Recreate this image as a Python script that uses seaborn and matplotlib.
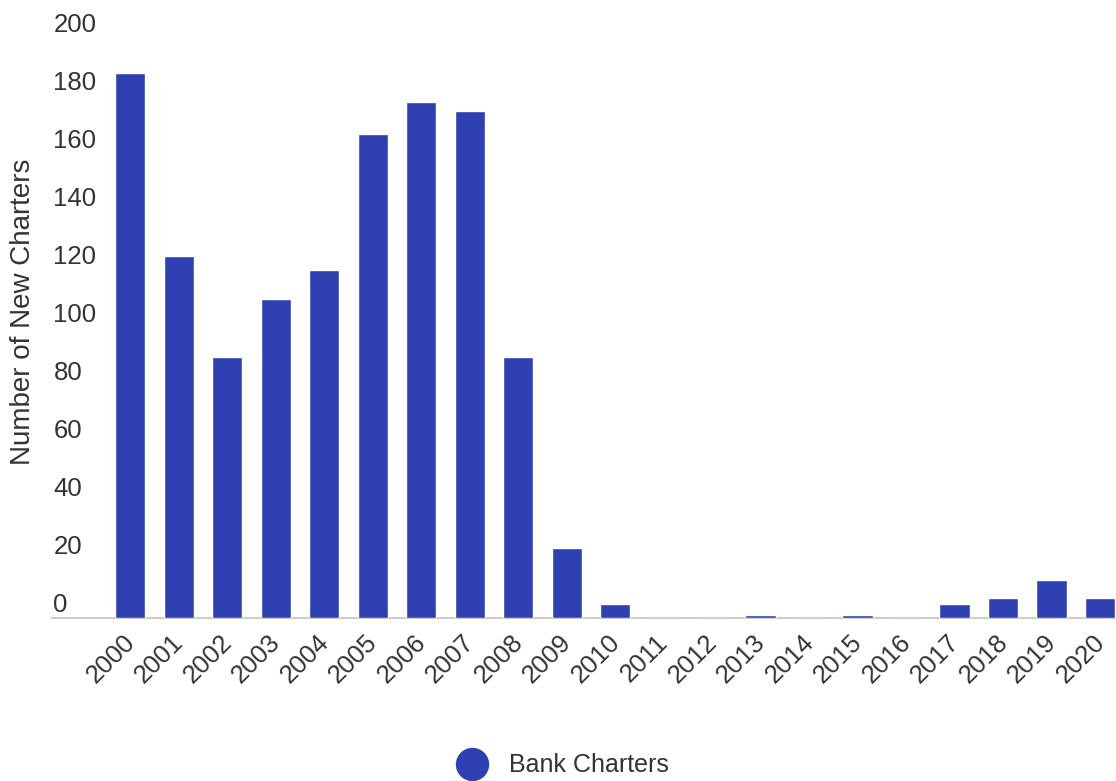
import matplotlib
matplotlib.use("Agg")
import matplotlib.pyplot as plt
import matplotlib.transforms as mtransforms
from matplotlib.lines import Line2D
import seaborn as sns
import pandas as pd

years = [str(y) for y in range(2000, 2021)]
charters = [188, 125, 90, 110, 120, 167, 178, 175, 90, 24, 5, 0, 0, 1, 0, 1, 0, 5, 7, 13, 7]
yticks = [0, 20, 40, 60, 80, 100, 120, 140, 160, 180, 200]
series_name = "Bank Charters"
ylabel = "Number of New Charters"

BAR = "#2f41b0"
TXT = "#333333"

sns.set_theme(style="white")
plt.rcParams["font.family"] = ["Liberation Sans", "DejaVu Sans"]

df = pd.DataFrame({"Year": years, "Charters": charters})

fig = plt.figure(figsize=(11.16, 7.81), dpi=100)
ax = fig.add_axes([52 / 1116, 163 / 781, (1116 - 52) / 1116, (618 - 38) / 781])

sns.barplot(data=df, x="Year", y="Charters", color=BAR, saturation=1, width=0.62, ax=ax)

ax.set_xlim(-1.61, 20.33)
ax.set_ylim(0, 200)
ax.set_yticks(yticks)
ax.set_yticklabels([str(v) for v in yticks])
ax.set_xlabel("")
ax.set_ylabel(ylabel, fontsize=20, color=TXT)
ax.yaxis.set_label_coords(-0.015, 0.528)

for s in ["top", "right", "left"]:
    ax.spines[s].set_visible(False)
ax.spines["bottom"].set_color("#cccccc")
ax.spines["bottom"].set_linewidth(1.5)
ax.spines["bottom"].set_zorder(0.5)

ax.tick_params(axis="y", length=0, pad=-1, labelsize=18.5, labelcolor=TXT)
ax.tick_params(axis="x", length=0, pad=15, labelsize=18.5, labelcolor=TXT)

yoff = mtransforms.ScaledTranslation(0, 15 / 100, fig.dpi_scale_trans)
for lab in ax.get_yticklabels():
    lab.set_horizontalalignment("left")
    lab.set_transform(lab.get_transform() + yoff)

xoff = mtransforms.ScaledTranslation(1 / 100, 0, fig.dpi_scale_trans)
for lab in ax.get_xticklabels():
    lab.set_rotation(45)
    lab.set_horizontalalignment("right")
    lab.set_verticalalignment("center")
    lab.set_rotation_mode("anchor")
    lab.set_transform(lab.get_transform() + xoff)

handle = Line2D([], [], marker="o", linestyle="none", markersize=23,
                markerfacecolor=BAR, markeredgecolor=BAR)
fig.legend([handle], [series_name], loc="center", bbox_to_anchor=(0.5, 0.02),
           frameon=False, fontsize=18, labelcolor=TXT, handletextpad=0.5)

fig.savefig("out.png", dpi=100)
